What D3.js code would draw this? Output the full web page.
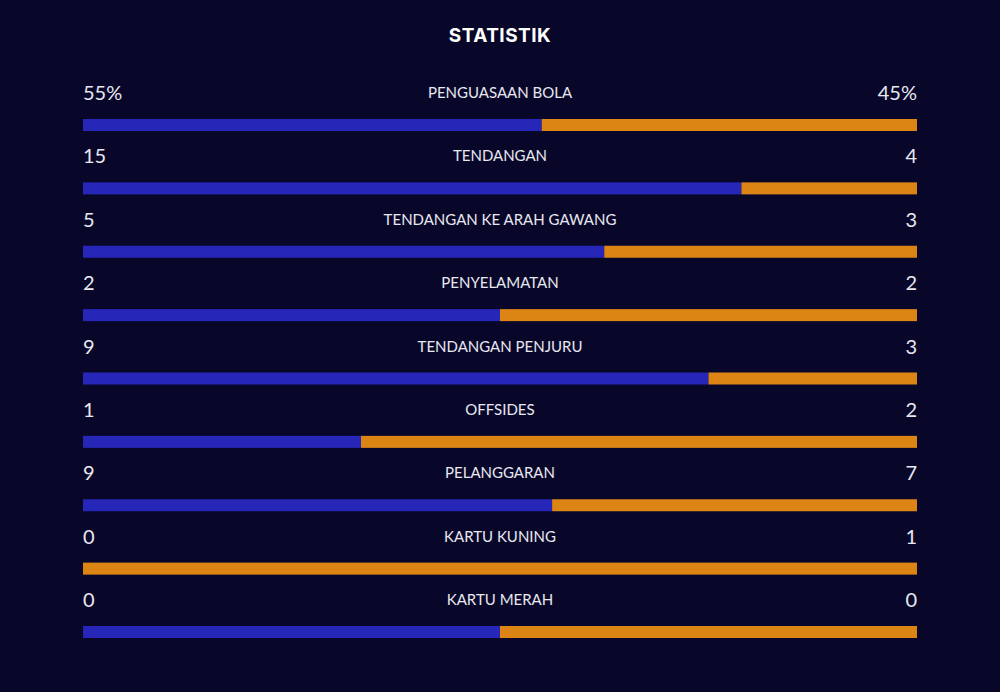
<!DOCTYPE html>
<html>
<head>
<meta charset="utf-8">
<script src="https://cdn.jsdelivr.net/npm/d3@7"></script>
<style>
  html, body { margin: 0; padding: 0; background: #08072a; }
  svg { display: block; }
</style>
</head>
<body>
<svg id="chart" width="1000" height="692"></svg>
<script>
// stats per row: label, home value, away value, display text
const categories = ["PENGUASAAN BOLA", "TENDANGAN", "TENDANGAN KE ARAH GAWANG", "PENYELAMATAN",
  "TENDANGAN PENJURU", "OFFSIDES", "PELANGGARAN", "KARTU KUNING", "KARTU MERAH"];
const homeValues = [55, 15, 5, 2, 9, 1, 9, 0, 0];
const awayValues = [45, 4, 3, 2, 3, 2, 7, 1, 0];
const homeLabels = ["55%", "15", "5", "2", "9", "1", "9", "0", "0"];
const awayLabels = ["45%", "4", "3", "2", "3", "2", "7", "1", "0"];

const svg = d3.select("#chart");
const width = +svg.attr("width");
const left = 83, right = 917;

const rows = categories.map((c, i) => ({
  name: c,
  home: homeValues[i],
  away: awayValues[i],
  homeText: homeLabels[i],
  awayText: awayLabels[i],
  // share of home team, 0/0 splits in half
  share: homeValues[i] + awayValues[i] === 0 ? 0.5 : homeValues[i] / (homeValues[i] + awayValues[i])
}));

const y = d3.scaleBand().domain(categories).range([75, 75 + 9 * 63.375]).padding(0);
const x = d3.scaleLinear().domain([0, 1]).range([left, right]);

svg.append("text")
  .attr("x", width / 2)
  .attr("y", 42)
  .attr("text-anchor", "middle")
  .attr("fill", "#ffffff")
  .attr("font-family", "Inter, 'Open Sans', sans-serif")
  .attr("font-weight", 700)
  .attr("font-size", "19px")
  .attr("letter-spacing", "0.5px")
  .text("STATISTIK");

const g = svg.selectAll("g.row")
  .data(rows)
  .enter()
  .append("g")
  .attr("class", "row")
  .attr("transform", d => "translate(0," + y(d.name) + ")");

g.append("rect")
  .attr("x", x(0))
  .attr("y", 44)
  .attr("width", d => x(d.share) - x(0))
  .attr("height", 12)
  .attr("fill", "#2626b8");

g.append("rect")
  .attr("x", d => x(d.share))
  .attr("y", 44)
  .attr("width", d => x(1) - x(d.share))
  .attr("height", 12)
  .attr("fill", "#dc8514");

g.append("text")
  .attr("x", width / 2)
  .attr("y", 23)
  .attr("text-anchor", "middle")
  .attr("fill", "#e8e8f0")
  .attr("font-family", "Lato, sans-serif")
  .attr("font-size", "15px")
  .text(d => d.name);

g.append("text")
  .attr("x", left)
  .attr("y", 25)
  .attr("fill", "#e8e8f0")
  .attr("font-family", "Lato, sans-serif")
  .attr("font-size", "20px")
  .text(d => d.homeText);

g.append("text")
  .attr("x", right)
  .attr("y", 25)
  .attr("text-anchor", "end")
  .attr("fill", "#e8e8f0")
  .attr("font-family", "Lato, sans-serif")
  .attr("font-size", "20px")
  .text(d => d.awayText);
</script>
</body>
</html>
